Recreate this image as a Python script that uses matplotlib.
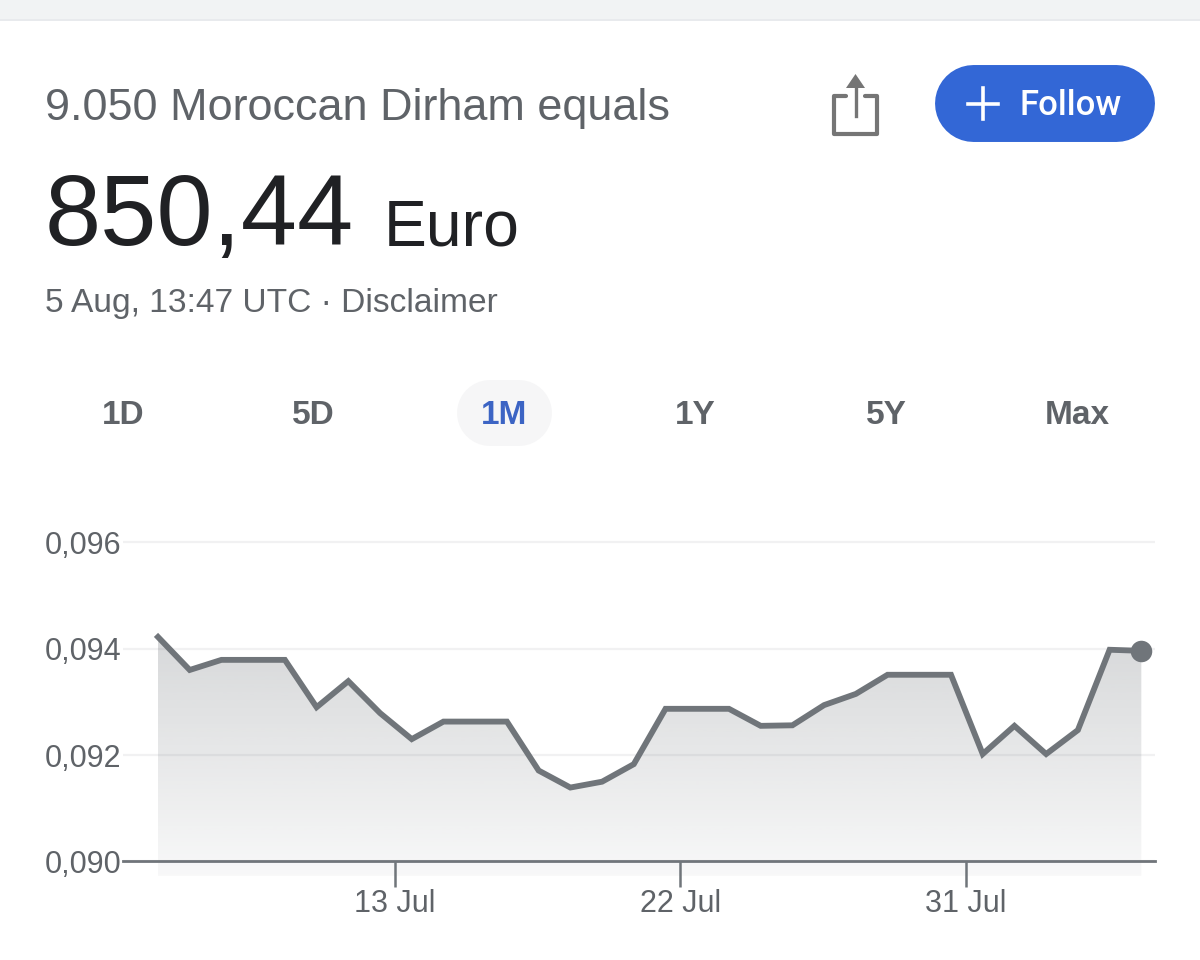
#!/usr/bin/env python3
import numpy as np
import matplotlib
matplotlib.use('Agg')
import matplotlib.pyplot as plt
from matplotlib.patches import Polygon, Rectangle

# values
rate = [0.09422, 0.09360, 0.09379, 0.09379, 0.09379, 0.09290, 0.09339, 0.09279,
        0.09230, 0.09263, 0.09263, 0.09263, 0.09171, 0.09139, 0.09150, 0.09183,
        0.09287, 0.09287, 0.09287, 0.09255, 0.09256, 0.09294, 0.09315, 0.09351,
        0.09351, 0.09351, 0.09202, 0.09255, 0.09202, 0.09247, 0.09398, 0.09396]
y_ticks = [0.090, 0.092, 0.094, 0.096]
y_labels = ['0,090', '0,092', '0,094', '0,096']
x_ticks = [7.47, 16.47, 25.47]
x_labels = ['13 Jul', '22 Jul', '31 Jul']
ranges = ['1D', '5D', '1M', '1Y', '5Y', 'Max']
range_x = [123, 313, 504, 695, 886, 1077]

GREY = '#70757a'
TEXT = '#5f6368'
DARK = '#202124'
BLUE = '#3367d6'

plt.rcParams['font.family'] = ['Liberation Sans', 'DejaVu Sans']
W, H = 1200, 960
fig = plt.figure(figsize=(12, 9.6), dpi=100)

# page layer in pixel coordinates, for the header and buttons
ui = fig.add_axes([0, 0, 1, 1])
ui.set_xlim(0, W)
ui.set_ylim(H, 0)
ui.axis('off')

ui.add_patch(Rectangle((0, 0), W, 19, color='#f1f3f4', lw=0))
ui.add_patch(Rectangle((0, 19), W, 2, color='#e8eaed', lw=0))

ui.text(45, 120, '9.050 Moroccan Dirham equals', fontsize=32.4, color=TEXT)
ui.text(45, 245, '850,44', fontsize=72.6, color=DARK)
ui.text(384, 245, 'Euro', fontsize=46.3, color=DARK)
ui.text(45, 312, '5 Aug, 13:47 UTC · Disclaimer', fontsize=24.1, color=TEXT)

# share icon
ui.plot([846, 834, 834, 877, 877, 865], [96, 96, 134, 134, 96, 96],
        color='#757575', lw=3.0, solid_joinstyle='round', solid_capstyle='round')
ui.plot([855.5, 855.5], [84, 116], color='#757575', lw=2.4)
ui.add_patch(Polygon([(855.5, 74), (846, 88), (865, 88)], color='#757575', lw=0))

# follow button, a thick line with round caps gives the pill shape
ui.plot([973, 1116], [103, 103], color=BLUE, lw=55.4, solid_capstyle='round')
ui.plot([968, 998], [103.5, 103.5], color='white', lw=2.6)
ui.plot([983, 983], [88, 119], color='white', lw=2.6)
ui.text(1019, 115, 'Follow', fontsize=25, color='white', family='Roboto', fontweight='medium')

# time range tabs
ui.plot([490, 519], [413, 413], color='#f6f6f7', lw=47.5, solid_capstyle='round')
for name, tx in zip(ranges, range_x):
    ui.text(tx, 424, name, fontsize=24, ha='center', fontweight='bold',
            color='#3c64c4' if name == '1M' else TEXT)

# chart layer, placed so the data lands on the same pixels as the reference
left, right, top, bottom = 123, 1155, 530, 900
ax = fig.add_axes([left / W, 1 - bottom / H, (right - left) / W, (bottom - top) / H])
ax.patch.set_alpha(0)
x = np.arange(len(rate))
px_per_day = 31.72
px_per_unit = 53.2 / 0.001
x_lim = ((left - 158) / px_per_day, (right - 158) / px_per_day)
y_lim = (0.090 - (bottom - 861.5) / px_per_unit, 0.090 + (861.5 - top) / px_per_unit)

# gradient below the line
floor = 0.08973
rgba = np.ones((200, 1, 4))
rgba[..., :3] = matplotlib.colors.to_rgb(GREY)
rgba[..., 3] = np.linspace(0.05, 0.28, 200).reshape(-1, 1)
img = ax.imshow(rgba, extent=(x[0], x[-1], floor, max(rate)), origin='lower',
                aspect='auto', interpolation='bilinear', zorder=2)
clip = Polygon(list(zip(x, rate)) + [(x[-1], floor), (x[0], floor)],
               transform=ax.transData, fc='none', ec='none')
ax.add_patch(clip)
img.set_clip_path(clip)
ax.set_xlim(x_lim)
ax.set_ylim(y_lim)

ax.plot(x, rate, color=GREY, lw=4.2, zorder=4, solid_joinstyle='miter')
ax.plot(x[-1], rate[-1], 'o', color=GREY, ms=15.5, mew=0, zorder=5)

for s in ['top', 'left', 'right']:
    ax.spines[s].set_visible(False)
ax.spines['bottom'].set_position(('data', 0.090))
ax.spines['bottom'].set_color(GREY)
ax.spines['bottom'].set_linewidth(2)
ax.spines['bottom'].set_zorder(3)

ax.set_yticks(y_ticks)
ax.set_yticklabels(y_labels)
ax.set_xticks(x_ticks)
ax.set_xticklabels(x_labels)
ax.tick_params(axis='y', length=0, pad=1, labelsize=22, labelcolor=TEXT)
ax.tick_params(axis='x', length=18.5, width=1.8, color=GREY, pad=1.5, labelsize=22, labelcolor=TEXT)
ax.yaxis.grid(True, color='#f1f1f2', lw=1.6, zorder=1)
ax.set_axisbelow(True)

fig.savefig('out.png', dpi=100)
